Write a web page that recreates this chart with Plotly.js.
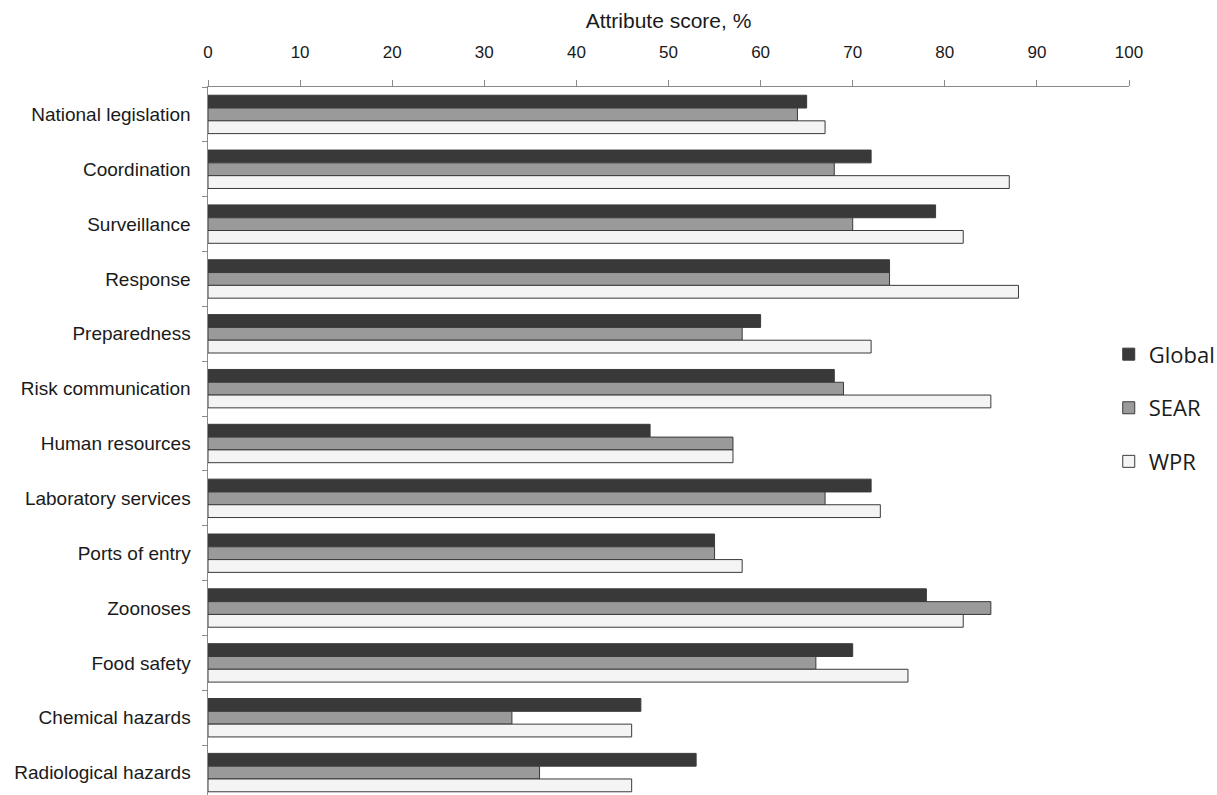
<!DOCTYPE html>
<html>
<head>
<meta charset="utf-8">
<script src="https://cdn.plot.ly/plotly-3.0.1.min.js"></script>
<style>html,body{margin:0;padding:0;overflow:hidden;background:#fff;}</style>
</head>
<body>
<div id="chart" style="width:1217px;height:808px;"></div>
<script>
const categories = ["National legislation","Coordination","Surveillance","Response","Preparedness","Risk communication","Human resources","Laboratory services","Ports of entry","Zoonoses","Food safety","Chemical hazards","Radiological hazards"];
const globalScores = [65,72,79,74,60,68,48,72,55,78,70,47,53];
const searScores   = [64,68,70,74,58,69,57,67,55,85,66,33,36];
const wprScores    = [67,87,82,88,72,85,57,73,58,82,76,46,46];
const seriesNames = ["Global","SEAR","WPR"];
const xTicks = [0,10,20,30,40,50,60,70,80,90,100];

const fills = ["#393939","#9a9a9a","#f4f4f4"];
const values = [globalScores, searScores, wprScores];
const traces = seriesNames.map((n,i)=>({
  type:"bar", orientation:"h", name:n, x:values[i], y:categories,
  marker:{color:fills[i], line:{color:"#3a3a3a", width:1}},
  legendgroup:"g"+i, hoverinfo:"x+y"
}));

const layout = {
  width:1217, height:808,
  margin:{l:208, r:88, t:87, b:8, autoexpand:false},
  paper_bgcolor:"#fff", plot_bgcolor:"#fff",
  barmode:"group", bargap:0.3, bargroupgap:0,
  font:{family:"Liberation Sans, Arial, sans-serif", size:16, color:"#1a1a1a"},
  xaxis:{side:"top", range:[0,100], tickvals:xTicks, ticktext:xTicks.map(String),
    showgrid:false, zeroline:false, showline:true, linecolor:"#8a8a8a", linewidth:1.5,
    ticks:"outside", ticklen:6, tickcolor:"#8a8a8a", ticklabelstandoff:15,
    tickfont:{size:17, color:"#1a1a1a"}, automargin:false,
    title:{text:"Attribute score, %", font:{size:21, color:"#1a1a1a"}, standoff:8}},
  yaxis:{type:"category", autorange:"reversed", showgrid:false, zeroline:false,
    showline:true, linecolor:"#8a8a8a", linewidth:1.5, ticks:"outside", ticklen:5,
    tickcolor:"#8a8a8a", tickson:"boundaries", ticklabelstandoff:12, automargin:false,
    tickfont:{size:19, color:"#1a1a1a"}},
  legend:{x:0.978, xanchor:"left", y:0.55, yanchor:"middle", traceorder:"grouped",
    tracegroupgap:22, font:{family:"Open Sans, Lato, sans-serif", size:22, color:"#1a1a1a"},
    itemwidth:30, bgcolor:"rgba(0,0,0,0)"},
  showlegend:true
};
Plotly.newPlot("chart", traces, layout, {displayModeBar:false, staticPlot:true});
</script>
</body>
</html>
